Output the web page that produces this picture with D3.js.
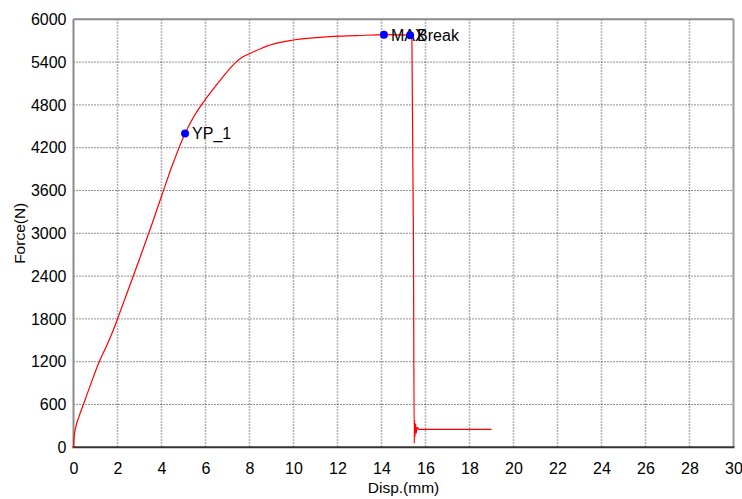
<!DOCTYPE html>
<html><head><meta charset="utf-8">
<script src="https://cdn.jsdelivr.net/npm/d3@7"></script>
<style>body{margin:0;background:#fff;} text{font-family:"Liberation Sans",Arial,sans-serif;}</style>
</head><body><svg id="c" width="742" height="499"></svg>
<script>
const xTicks = [0,2,4,6,8,10,12,14,16,18,20,22,24,26,28,30];
const yTicks = [0,600,1200,1800,2400,3000,3600,4200,4800,5400,6000];
const dispValues = [0,0.02,0.1,0.25,0.45,0.8,1.17,1.5,1.81,2.0,2.5,3.0,3.5,4.0,4.5,5.07,5.42,5.93,6.5,7.0,7.34,7.6,8.02,8.93,9.99,11.66,12.87,14.11,15.3,15.38,15.45,15.49,15.5,15.52,15.55,15.58,15.62,15.7,16.0,19.0];
const forceValues = [0,120,280,430,600,900,1200,1420,1645,1800,2220,2640,3070,3520,3960,4400,4610,4850,5080,5270,5385,5455,5520,5640,5710,5757,5771,5785,5778,5770,3000,56,380,150,330,200,280,250,250,250];
const markerNames = ["YP_1","MAX","Break"];
const markerDisp = [5.07,14.11,15.3];
const markerForce = [4400,5785,5778];

const svg = d3.select("#c");
const x = d3.scaleLinear().domain([0,30]).range([73.5,733.5]);
const y = d3.scaleLinear().domain([0,6000]).range([447.3,19.3]);
const FF = "Liberation Sans, Arial, sans-serif";

// grid
svg.append("g").selectAll("line").data(xTicks.filter(d=>d>0&&d<30)).join("line")
  .attr("x1",d=>x(d)).attr("x2",d=>x(d)).attr("y1",y(6000)).attr("y2",y(0))
  .attr("stroke","#9a9a9a").attr("stroke-width",1.6).attr("stroke-dasharray","1.5,1.5");
svg.append("g").selectAll("line").data(yTicks.filter(d=>d>0&&d<6000)).join("line")
  .attr("x1",x(0)).attr("x2",x(30)).attr("y1",d=>y(d)).attr("y2",d=>y(d))
  .attr("stroke","#222").attr("stroke-width",1).attr("stroke-dasharray","1,2");

// frame
svg.append("line").attr("x1",x(0)).attr("x2",x(30)).attr("y1",y(6000)).attr("y2",y(6000)).attr("stroke","#8a8a8a").attr("stroke-width",2);
svg.append("line").attr("x1",x(0)).attr("x2",x(0)).attr("y1",y(6000)).attr("y2",y(0)).attr("stroke","#8a8a8a").attr("stroke-width",2);
svg.append("line").attr("x1",x(30)).attr("x2",x(30)).attr("y1",y(6000)).attr("y2",y(0)).attr("stroke","#999").attr("stroke-width",2);
svg.append("line").attr("x1",x(0)-1).attr("x2",x(30)+1).attr("y1",y(0)).attr("y2",y(0)).attr("stroke","#333").attr("stroke-width",2);

// axes labels
const xa = d3.axisBottom(x).tickValues(xTicks).tickFormat(d3.format("d")).tickSize(0).tickPadding(15);
svg.append("g").attr("transform",`translate(0,${y(0)})`).call(xa)
  .call(g=>g.select(".domain").remove())
  .selectAll("text").attr("font-size",16).attr("fill","#000").attr("font-family",FF);
const ya = d3.axisLeft(y).tickValues(yTicks).tickFormat(d3.format("d")).tickSize(0).tickPadding(7);
svg.append("g").attr("transform",`translate(${x(0)},0)`).call(ya)
  .call(g=>g.select(".domain").remove())
  .selectAll("text").attr("font-size",16).attr("fill","#000").attr("font-family",FF);

svg.append("text").attr("x",(x(0)+x(30))/2).attr("y",493).attr("text-anchor","middle").attr("font-size",15.5).text("Disp.(mm)");
svg.append("text").attr("transform",`translate(25,${(y(0)+y(6000))/2}) rotate(-90)`).attr("text-anchor","middle").attr("font-size",15.5).text("Force(N)");

// curve
const line = d3.line().x((d,i)=>x(dispValues[i])).y(d=>y(d)).curve(d3.curveMonotoneX);
svg.append("path").datum(forceValues).attr("d",line).attr("fill","none").attr("stroke","#ff0000").attr("stroke-width",1.2);

// markers
const mk = svg.append("g");
markerNames.forEach((n,i)=>{
  mk.append("circle").attr("cx",x(markerDisp[i])).attr("cy",y(markerForce[i])).attr("r",4).attr("fill","#0000ff");
  mk.append("text").attr("x",x(markerDisp[i])+7).attr("y",y(markerForce[i])+6).attr("font-size",16).text(n);
});
</script></body></html>
